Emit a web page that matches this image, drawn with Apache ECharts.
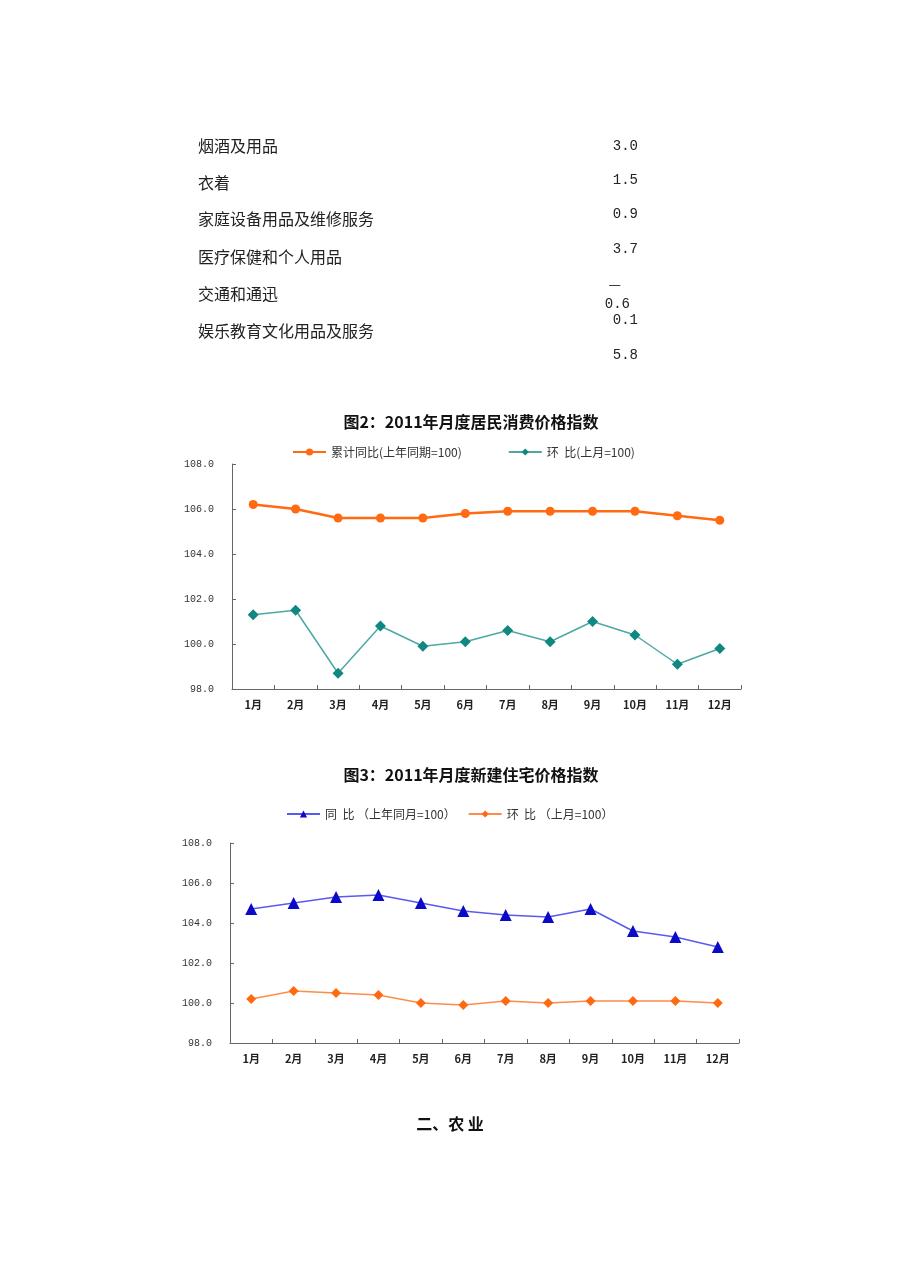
<!DOCTYPE html>
<html>
<head>
<meta charset="utf-8">
<script src="https://cdn.jsdelivr.net/npm/echarts@6/dist/echarts.min.js"></script>
<style>
html,body{margin:0;padding:0;background:#fff;}
#main{width:920px;height:1276px;}
</style>
</head>
<body>
<div id="main"></div>
<script>
// ---- data ----
var months = ['1月','2月','3月','4月','5月','6月','7月','8月','9月','10月','11月','12月'];
var yTicks = [98, 100, 102, 104, 106, 108];

var cpiCumulative = [106.2, 106.0, 105.6, 105.6, 105.6, 105.8, 105.9, 105.9, 105.9, 105.9, 105.7, 105.5];
var cpiMonthOnMonth = [101.3, 101.5, 98.7, 100.8, 99.9, 100.1, 100.6, 100.1, 101.0, 100.4, 99.1, 99.8];

var houseYearOnYear = [104.7, 105.0, 105.3, 105.4, 105.0, 104.6, 104.4, 104.3, 104.7, 103.6, 103.3, 102.8];
var houseMonthOnMonth = [100.2, 100.6, 100.5, 100.4, 100.0, 99.9, 100.1, 100.0, 100.1, 100.1, 100.1, 100.0];

var itemNames = ['烟酒及用品','衣着','家庭设备用品及维修服务','医疗保健和个人用品','交通和通迅','娱乐教育文化用品及服务'];
var itemValues = ['3.0','1.5','0.9','3.7','—','0.6','0.1','5.8'];

var title2 = '图2：2011年月度居民消费价格指数';
var title3 = '图3：2011年月度新建住宅价格指数';
var legend2 = ['累计同比(上年同期=100)', '环  比(上月=100)'];
var legend3 = ['同  比 （上年同月=100）', '环  比 （上月=100）'];
var sectionHead = '二、农 业';

// ---- layout / drawing ----
var chart = echarts.init(document.getElementById('main'), null, {renderer:'canvas'});
var cjk = '"Noto Sans CJK SC", "Noto Sans", sans-serif';
var mono = '"Liberation Mono", "DejaVu Sans Mono", monospace';

var graphics = [];
var nameY = [146, 183, 219, 257, 294, 331];
itemNames.forEach(function(n, i){
  graphics.push({type:'text', x:198, y:nameY[i],
    style:{text:n, fontSize:16, fontFamily:cjk, fill:'#222', verticalAlign:'middle'}});
});
var valPos = [[638,146],[638,180],[638,214],[638,249],[621,284],[630,304],[638,320],[638,355]];
itemValues.forEach(function(v, i){
  graphics.push({type:'text', x:valPos[i][0], y:valPos[i][1],
    style:{text:v, fontSize:14, fontFamily:(v === '—' ? cjk : mono), fill:'#222', align:'right', verticalAlign:'middle'}});
});
graphics.push({type:'text', x:450, y:1124,
  style:{text:sectionHead, fontSize:16, fontFamily:cjk, fontWeight:'bold', fill:'#111', align:'center', verticalAlign:'middle'}});

function xAxisCfg(gi){
  return {
    type:'category', gridIndex:gi, data:months, boundaryGap:true,
    axisLine:{lineStyle:{color:'#666', width:1}},
    axisTick:{show:true, inside:true, length:4, lineStyle:{color:'#666'}},
    axisLabel:{color:'#222', fontSize:11, fontWeight:'bold', fontFamily:cjk, margin:10}
  };
}
function yAxisCfg(gi){
  return {
    type:'value', gridIndex:gi, min:yTicks[0], max:yTicks[yTicks.length-1], interval:yTicks[1]-yTicks[0],
    axisLine:{show:true, lineStyle:{color:'#666', width:1}},
    axisTick:{show:true, inside:true, length:4, lineStyle:{color:'#666'}},
    splitLine:{show:false},
    axisLabel:{color:'#333', fontSize:10, fontFamily:mono, margin:18,
      formatter:function(v){return v.toFixed(1);}}
  };
}

var option = {
  animation:false,
  backgroundColor:'#fff',
  title:[
    {text:title2, left:466, top:409, textAlign:'center',
     textStyle:{fontSize:16, fontWeight:'bold', fontFamily:cjk, color:'#111'}},
    {text:title3, left:466, top:762, textAlign:'center',
     textStyle:{fontSize:16, fontWeight:'bold', fontFamily:cjk, color:'#111'}}
  ],
  legend:[
    {data:legend2, left:287, top:441, itemWidth:33, itemHeight:9, itemGap:46,
     textStyle:{fontSize:12, fontFamily:cjk, color:'#333'}},
    {data:legend3, left:281, top:803, itemWidth:33, itemHeight:9, itemGap:12,
     textStyle:{fontSize:12, fontFamily:cjk, color:'#333'}}
  ],
  grid:[
    {left:232, top:464, width:509, height:225},
    {left:230, top:843, width:509, height:200}
  ],
  xAxis:[xAxisCfg(0), xAxisCfg(1)],
  yAxis:[yAxisCfg(0), yAxisCfg(1)],
  series:[
    {name:legend2[0], type:'line', xAxisIndex:0, yAxisIndex:0, data:cpiCumulative,
     symbol:'circle', symbolSize:9, color:'#FF6A13',
     itemStyle:{color:'#FF6A13'}, lineStyle:{color:'#FF6A13', width:2.5}},
    {name:legend2[1], type:'line', xAxisIndex:0, yAxisIndex:0, data:cpiMonthOnMonth,
     symbol:'diamond', symbolSize:11, color:'#10877F',
     itemStyle:{color:'#10877F'}, lineStyle:{color:'#4CA8A4', width:1.5}},
    {name:legend3[0], type:'line', xAxisIndex:1, yAxisIndex:1, data:houseYearOnYear,
     symbol:'triangle', symbolSize:12, color:'#0A0AC8',
     itemStyle:{color:'#0A0AC8'}, lineStyle:{color:'#5A5AF0', width:1.5}},
    {name:legend3[1], type:'line', xAxisIndex:1, yAxisIndex:1, data:houseMonthOnMonth,
     symbol:'diamond', symbolSize:10, color:'#FF6A10',
     itemStyle:{color:'#FF6A10'}, lineStyle:{color:'#FF8C4A', width:1.5}}
  ],
  graphic:graphics
};
chart.setOption(option);
</script>
</body>
</html>
